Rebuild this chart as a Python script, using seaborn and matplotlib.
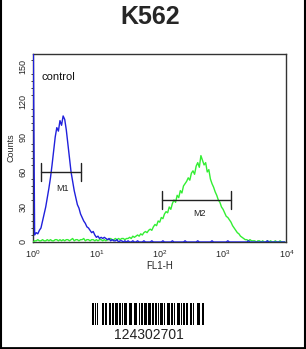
import numpy as np
import pandas as pd
import matplotlib
matplotlib.use("Agg")
import matplotlib.pyplot as plt
import seaborn as sns
from matplotlib.lines import Line2D
from matplotlib.ticker import MultipleLocator

title = "K562"
sample_label = "control"
barcode_text = "124302701"

# channel positions in decades (0 .. 4), 0.025 decade per channel
channel_log = np.arange(0, 4, 0.025)

control_counts = [
    200, 6, 8, 7, 10, 12, 18, 24, 30, 38, 46, 55, 66, 78, 90, 98, 95, 104, 100, 108,
    105, 96, 84, 72, 60, 52, 44, 38, 32, 29, 24, 21, 18, 16, 13, 12, 10, 8, 9, 6,
    4, 5, 3, 4, 3, 4, 3, 2, 3, 1, 2, 1, 1, 2, 0, 1, 1, 0, 1, 0,
    1, 0, 0, 1, 0, 0, 1, 0, 0, 0, 1, 0, 0, 0, 0, 1, 0, 0, 0, 0,
    0, 0, 1, 0, 0, 0, 0, 0, 1, 0, 0, 0, 0, 0, 0, 0, 1, 0, 0, 0,
    0, 0, 0, 0, 1, 0, 0, 0, 0, 0, 0, 0, 0, 1, 0, 0, 0, 0, 0, 0,
    0, 0, 0, 1, 0, 0, 0, 0, 0, 0, 0, 0, 0, 0, 0, 0, 1, 0, 0, 0,
    0, 0, 0, 0, 0, 0, 0, 0, 1, 0, 0, 0, 0, 0, 0, 0, 0, 0, 0, 0,
]

antibody_counts = [
    0, 1, 1, 2, 1, 1, 2, 1, 1, 2, 1, 2, 1, 1, 2, 2, 1, 2, 1, 2,
    1, 2, 2, 1, 2, 3, 1, 2, 2, 1, 2, 2, 3, 1, 2, 2, 1, 2, 2, 1,
    2, 1, 2, 2, 1, 2, 1, 2, 2, 3, 2, 2, 3, 2, 3, 2, 3, 3, 2, 3,
    3, 4, 3, 5, 4, 5, 6, 5, 7, 6, 8, 9, 8, 10, 11, 10, 13, 15, 14, 18,
    17, 21, 20, 24, 26, 25, 30, 28, 33, 36, 34, 40, 38, 44, 42, 48, 50, 52, 55, 53,
    59, 61, 58, 65, 68, 64, 74, 70, 66, 68, 60, 62, 54, 50, 47, 43, 40, 36, 34, 30,
    28, 25, 22, 21, 19, 17, 14, 12, 10, 8, 7, 5, 4, 3, 2, 2, 1, 2, 1, 1,
    1, 0, 1, 1, 0, 1, 0, 0, 1, 0, 1, 0, 0, 1, 0, 0, 1, 0, 0, 0,
]

# marker gates
gate_names = ["M1", "M2"]
gate_lo = [1.34, 107]
gate_hi = [5.75, 1350]
gate_level = [60, 36]
gate_label_x = [2.87, 420]
gate_label_y = [46, 24]

barcode_modules = ("11010010000110011001101100111011001011100110100111001101101110"
                   "0111011011001011101000111011011001110100110110011101000111010110")

df = pd.DataFrame({
    "FL1-H": np.concatenate([10 ** channel_log, 10 ** channel_log]),
    "Counts": control_counts + antibody_counts,
    "sample": ["control"] * len(control_counts) + ["antibody"] * len(antibody_counts),
})

sns.set_style("white")
plt.rcParams['font.family'] = ['Liberation Sans', 'DejaVu Sans']

fig = plt.figure(figsize=(3.06, 3.49), dpi=100)
ax = fig.add_axes([0.108, 0.3066, 0.828, 0.5384])

sns.lineplot(data=df, x="FL1-H", y="Counts", hue="sample",
             palette={"control": "#2020dc", "antibody": "#33ee33"},
             hue_order=["antibody", "control"], linewidth=1.0, legend=False, ax=ax)
for ln in ax.lines:
    ln.set_zorder(3)

ax.set_xscale("log")
ax.set_xlim(1, 1e4)
ax.set_ylim(0, 161)

for name, lo, hi, lvl, lx, ly in zip(gate_names, gate_lo, gate_hi, gate_level, gate_label_x, gate_label_y):
    ax.plot([lo, hi], [lvl, lvl], color="#222222", lw=1.0, zorder=4)
    ax.plot([lo, lo], [lvl - 8, lvl + 8], color="#222222", lw=1.0, zorder=4)
    ax.plot([hi, hi], [lvl - 8, lvl + 8], color="#222222", lw=1.0, zorder=4)
    ax.text(lx, ly, name, fontsize=6.5, ha="center", va="center", color="#222222")

ax.text(0.032, 0.876, sample_label, transform=ax.transAxes, fontsize=8, va="center", color="#111111")

for s in ax.spines.values():
    s.set_color("#333333")
    s.set_linewidth(1.0)

ax.minorticks_on()
ax.set_yticks([0, 30, 60, 90, 120, 150])
ax.yaxis.set_minor_locator(MultipleLocator(6))
ax.tick_params(axis="x", which="major", direction="out", length=3, width=0.8, labelsize=6.5, pad=1.5, color="#222222")
ax.tick_params(axis="x", which="minor", direction="out", length=2, width=0.6, color="#222222")
ax.tick_params(axis="y", which="major", direction="out", length=3, width=0.8, labelsize=6.5, pad=1, labelrotation=90, color="#222222")
ax.tick_params(axis="y", which="minor", direction="out", length=1.8, width=0.6, left=True, color="#222222")
for lab in ax.get_yticklabels():
    lab.set_va("center")

ax.set_xlabel("FL1-H", fontsize=7, labelpad=1)
ax.set_ylabel("Counts", fontsize=6.5, labelpad=2)

fig.text(0.49, 0.951, title, fontsize=18, fontweight="bold", ha="center", va="center")

# barcode
bax = fig.add_axes([92 / 306, 1 - 325 / 349, 113 / 306, 22 / 349])
bars = np.array([[int(c) for c in barcode_modules]])
bax.imshow(bars, cmap="gray_r", aspect="auto", interpolation="nearest", vmin=0, vmax=1)
bax.set_axis_off()
fig.text(0.487, 1 - 335 / 349, barcode_text, fontsize=10, ha="center", va="center", color="#222222")

# outer frame
fig.add_artist(Line2D([0.002, 0.002], [0, 1], transform=fig.transFigure, color="black", lw=1.5))
fig.add_artist(Line2D([0.997, 0.997], [0, 1], transform=fig.transFigure, color="black", lw=1.5))
fig.add_artist(Line2D([0, 1], [0.004, 0.004], transform=fig.transFigure, color="black", lw=2))

fig.savefig("out.png", dpi=100)
